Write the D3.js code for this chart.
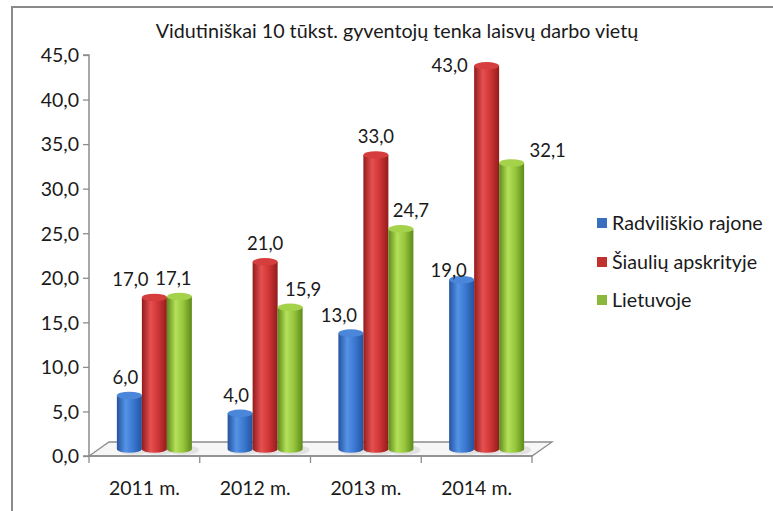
<!DOCTYPE html>
<html>
<head>
<meta charset="utf-8">
<script src="https://cdn.jsdelivr.net/npm/d3@7"></script>
<style>
  html, body { margin: 0; padding: 0; background: #fff; }
  svg { display: block; }
  text { font-family: Lato, "Open Sans", sans-serif; fill: #1a1a1a; }
</style>
</head>
<body>
<svg id="chart" width="773" height="511"></svg>
<script>
// ---- data ----
const title = "Vidutiniškai 10 tūkst. gyventojų tenka laisvų darbo vietų";
const categories = ["2011 m.", "2012 m.", "2013 m.", "2014 m."];
const seriesNames = ["Radviliškio rajone", "Šiaulių apskrityje", "Lietuvoje"];
const radviliskis = [6.0, 4.0, 13.0, 19.0];
const siauliai = [17.0, 21.0, 33.0, 43.0];
const lietuva = [17.1, 15.9, 24.7, 32.1];
const yTicks = [0, 5, 10, 15, 20, 25, 30, 35, 40, 45];
// manual label nudges (px) per category x series, as placed in the original
const labelDx = [[-4, -24, -6], [-4, 0, 13], [-12, 0, 10], [-13, -37, 36]];
const labelDy = [[0, 0, 0], [0, 0, 0], [0, 0, 0], [9, 18, 6]];

const series = [radviliskis, siauliai, lietuva];
const colors = [
  {edge: "#24539e", light: "#5593e6", mid: "#3b79d2", top: "#4a86da", legend: "#3a6fc0"},
  {edge: "#931c1c", light: "#e65050", mid: "#cf3535", top: "#d63e3e", legend: "#c0302f"},
  {edge: "#5d8a1a", light: "#b4e05a", mid: "#96c63c", top: "#a4d24a", legend: "#8ab83a"}
];

const svg = d3.select("#chart");
const defs = svg.append("defs");
colors.forEach((c, i) => {
  const g = defs.append("linearGradient").attr("id", "cyl" + i)
    .attr("x1", "0%").attr("x2", "100%").attr("y1", "0%").attr("y2", "0%");
  g.append("stop").attr("offset", "0%").attr("stop-color", c.edge);
  g.append("stop").attr("offset", "35%").attr("stop-color", c.light);
  g.append("stop").attr("offset", "65%").attr("stop-color", c.mid);
  g.append("stop").attr("offset", "100%").attr("stop-color", c.edge);
});

// outer frame
svg.append("line").attr("x1", 12).attr("x2", 773).attr("y1", 7).attr("y2", 7)
  .attr("stroke", "#8a8a8a").attr("stroke-width", 2);
svg.append("line").attr("x1", 12).attr("x2", 12).attr("y1", 6).attr("y2", 511)
  .attr("stroke", "#8a8a8a").attr("stroke-width", 2);

// title
svg.append("text").attr("x", 397).attr("y", 38).attr("text-anchor", "middle")
  .style("font-size", "19.7px").text(title);

// scales
const x0 = 89, x1 = 532, yBase = 456, yTop = 55;
const depth = {dx: 20, dy: -14};
const x = d3.scaleBand().domain(categories).range([x0, x1]).paddingInner(0).paddingOuter(0);
const y = d3.scaleLinear().domain([0, 45]).range([yBase, yTop]);
const barW = 25;
const xs = d3.scaleBand().domain(d3.range(seriesNames.length)).range([0, barW * 3]);

// floor
const floor = svg.append("g");
floor.append("path")
  .attr("d", `M${x0},${yBase} L${x1},${yBase} L${x1 + depth.dx},${yBase + depth.dy} L${x0 + depth.dx},${yBase + depth.dy} Z`)
  .attr("fill", "#f6f6f6").attr("stroke", "#8c8c8c").attr("stroke-width", 1.3);

// y axis
const yAxis = d3.axisLeft(y).tickValues(yTicks).tickSize(6).tickPadding(4)
  .tickFormat(d => d3.format(".1f")(d).replace(".", ","));
const gy = svg.append("g").attr("transform", `translate(${x0},0)`).call(yAxis);
gy.select(".domain").attr("stroke", "#8c8c8c").attr("stroke-width", 1.5).attr("d", `M-6,${yTop}H0V${yBase}H-6`);
gy.selectAll(".tick line").attr("stroke", "#8c8c8c").attr("stroke-width", 1.3);
gy.selectAll(".tick text").style("font-size", "19.5px").style("font-family", "Lato, sans-serif").attr("fill", "#1a1a1a").attr("dy", "0.35em");

// x axis
const gx = svg.append("g").attr("transform", `translate(0,${yBase})`);
gx.append("line").attr("x1", x0).attr("x2", x1).attr("y1", 0).attr("y2", 0)
  .attr("stroke", "#8c8c8c").attr("stroke-width", 1.5);
const bounds = categories.map(c => x(c)).concat([x1]);
gx.selectAll("line.tk").data(bounds).enter().append("line").attr("class", "tk")
  .attr("x1", d => d).attr("x2", d => d).attr("y1", 0).attr("y2", 7)
  .attr("stroke", "#8c8c8c").attr("stroke-width", 1.3);
gx.selectAll("text.cat").data(categories).enter().append("text").attr("class", "cat")
  .attr("x", d => x(d) + x.bandwidth() / 2).attr("y", 39).attr("text-anchor", "middle")
  .style("font-size", "19.5px").text(d => d);

// bars
const rx = barW / 2, ry = 3.8;
const bars = svg.append("g");
const labels = svg.append("g");
categories.forEach((cat, ci) => {
  const gLeft = x(cat) + (x.bandwidth() - barW * 3) / 2 + depth.dx / 2;
  const base = yBase + depth.dy / 2;
  series.forEach((vals, si) => {
    const v = vals[ci];
    const bx = gLeft + xs(si);
    const top = y(v) + depth.dy / 2;
    bars.append("ellipse").attr("cx", bx + rx + 4).attr("cy", base + 1).attr("rx", rx + 3).attr("ry", ry + 1)
      .attr("fill", "#000").attr("opacity", 0.08);
    bars.append("path")
      .attr("d", `M${bx},${top} L${bx},${base} A${rx},${ry} 0 0 0 ${bx + barW},${base} L${bx + barW},${top} Z`)
      .attr("fill", `url(#cyl${si})`);
    bars.append("ellipse").attr("cx", bx + rx).attr("cy", top).attr("rx", rx).attr("ry", ry)
      .attr("fill", colors[si].top);
    labels.append("text")
      .attr("x", bx + rx + labelDx[ci][si]).attr("y", top - 18 + labelDy[ci][si])
      .attr("dy", "0.35em").attr("text-anchor", "middle").style("font-size", "18.5px")
      .text(d3.format(".1f")(v).replace(".", ","));
  });
});

// legend
const legend = svg.append("g").attr("transform", "translate(597,0)");
const legY = [223, 262, 300];
seriesNames.forEach((n, i) => {
  legend.append("rect").attr("x", 0).attr("y", legY[i] - 5).attr("width", 10).attr("height", 10)
    .attr("fill", colors[i].legend);
  legend.append("text").attr("x", 15).attr("y", legY[i]).attr("dy", "0.35em")
    .style("font-size", "19.7px").text(n);
});
</script>
</body>
</html>
